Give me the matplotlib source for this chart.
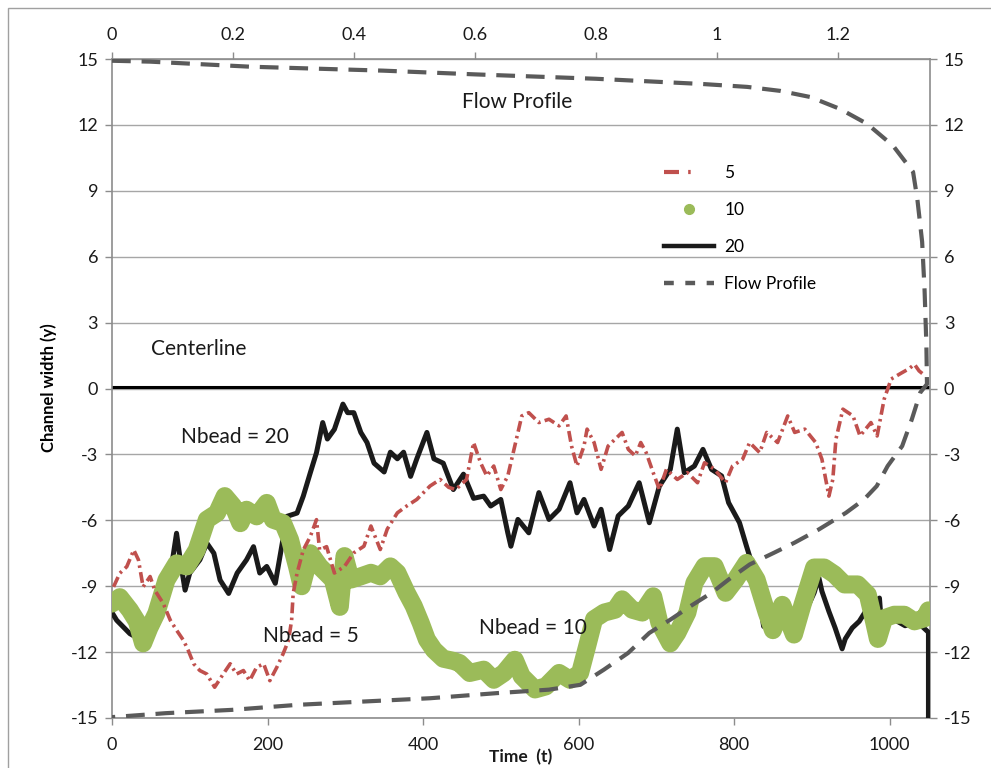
import matplotlib
matplotlib.use("Agg")
import matplotlib.pyplot as plt
from matplotlib.lines import Line2D
from matplotlib.patches import Rectangle

plt.rcParams['font.family'] = ['Lato', 'DejaVu Sans']

# Nbead = 5 trajectory (red, dash-dot)
t5 = [2, 10, 19, 28, 34, 40, 49, 55, 66, 75,
      83, 92, 98, 105, 113, 122, 132, 143, 152, 160,
      169, 177, 186, 195, 203, 212, 220, 227, 231, 233,
      238, 246, 255, 263, 267, 276,
      286, 299, 311, 324, 333, 345, 354, 367, 379, 392,
      409, 422, 433, 442, 456, 465, 474, 482, 491, 500,
      509, 518, 527, 536, 549, 562, 575, 584, 591, 598,
      607, 611, 620, 629, 638, 647, 656, 664, 673, 680,
      687, 696, 704, 713, 727, 740, 753, 762, 775, 789,
      798, 811, 820, 833, 842, 856, 869, 878, 891, 905,
      913, 922, 927, 931, 940, 953, 962, 976, 984, 993,
      1002, 1015, 1025, 1032, 1038, 1045]
y5 = [-9.03, -8.41, -8.11, -7.35, -7.8, -9.03, -8.56, -9.18, -9.79, -10.55,
      -11.0, -11.47, -11.92, -12.53, -12.84, -13.0, -13.6, -13.0, -12.53, -13.0,
      -12.84, -13.3, -12.69, -12.53, -13.3, -12.69, -12.08, -11.47, -10.55, -9.33,
      -8.41, -7.35, -6.74, -5.97, -7.35, -7.2,
      -8.4, -8.1, -7.48, -7.18, -6.26, -7.33, -6.4, -5.66, -5.35, -5.05,
      -4.44, -4.14, -4.5, -4.6, -4.14, -2.46, -3.38, -3.98, -3.53, -4.6,
      -3.98, -2.62, -1.25, -1.1, -1.55, -1.4, -1.7, -1.25, -2.62, -3.53,
      -2.62, -1.85, -2.46, -3.68, -2.62, -2.31, -2.0, -2.77, -3.07, -2.46,
      -2.92, -3.83, -4.6, -3.68, -4.14, -3.83, -4.29, -3.38, -3.68, -4.29,
      -3.53, -3.22, -2.46, -2.92, -2.0, -2.46, -1.25, -2.0, -1.85, -2.46,
      -3.22, -4.9, -4.14, -2.31, -0.94, -1.25, -2.16, -1.55, -2.16, -0.49,
      0.43, 0.7, 0.9, 1.1, 0.8, 0.6]

# Nbead = 10 trajectory (green markers)
t10 = [0, 10, 23, 32, 40, 48, 57, 70, 83, 96,
       109, 122, 135, 145, 156, 165, 173, 186, 199, 207,
       220, 229, 238, 244, 255, 267, 284, 293,
       299, 307, 320, 333, 345, 358, 367, 379, 388, 397,
       405, 414, 426, 439, 447, 460, 478, 491, 504, 518,
       527, 544, 558, 575, 589, 602, 611, 620, 633, 647,
       656, 669, 682, 696, 704, 718, 727, 740, 749, 762,
       775, 789, 802, 816, 829, 842,
       850, 862, 877, 888, 903, 916, 929, 942, 959, 972,
       980, 985, 993, 1006, 1019, 1032, 1045, 1050]
y10 = [-9.79, -9.5, -10.09, -10.6, -11.6, -10.9, -10.24, -8.72, -7.96, -8.1,
       -7.35, -5.97, -5.67, -4.9, -5.36, -6.13, -5.52, -5.82, -5.21, -5.97,
       -6.13, -6.89, -8.11, -9.0, -7.5, -8.1, -8.7, -9.94,
       -7.63, -8.7, -8.55, -8.39, -8.55, -8.1, -8.39, -9.3, -9.9, -10.67,
       -11.43, -11.9, -12.3, -12.4, -12.5, -12.95, -12.8, -13.26, -12.95, -12.35,
       -13.1, -13.7, -13.56, -12.95, -13.26, -12.95, -11.74, -10.5, -10.2, -10.07,
       -9.6, -10.07, -10.2, -9.46, -10.67, -11.6, -11.13, -10.2, -8.85, -8.09,
       -8.09, -9.3, -8.7, -7.94, -8.7, -10.2,
       -11.0, -9.85, -11.2, -9.85, -8.15, -8.15, -8.46, -8.92, -8.92, -9.38,
       -10.6, -11.4, -10.46, -10.3, -10.3, -10.6, -10.46, -10.1]

# Nbead = 20 trajectory (black)
t20 = [0, 6, 23, 45, 57, 70, 83, 89, 94, 100,
       113, 122, 131, 139, 150, 161, 173, 182, 190, 199,
       210, 216, 225, 238, 246, 255, 263,
       271, 277, 286, 297, 303, 311, 320, 328, 337, 350,
       358, 367, 375, 384, 392, 405, 414, 426, 439, 452,
       465, 478, 487, 500, 509, 513, 522, 536, 549, 562,
       575, 589, 598, 607, 620, 629, 640, 651, 664, 678,
       691, 704, 718, 727, 736, 749, 760, 771, 784, 793,
       807, 816, 824, 833, 838, 842, 856, 866, 877, 890,
       903, 909, 913, 922, 930, 939, 943, 952, 961, 969,
       976, 987, 989, 1005, 1020, 1035, 1050, 1050]
y20 = [-10.2, -10.55, -11.16, -11.6, -10.85, -9.63, -6.59, -8.1, -9.18, -8.4,
       -7.8, -7.04, -7.5, -8.72, -9.33, -8.4, -7.8, -7.2, -8.4, -8.1,
       -8.87, -7.65, -5.82, -5.67, -4.9, -3.84, -2.92,
       -1.55, -2.3, -1.86, -0.71, -1.1, -1.1, -2.0, -2.46, -3.4, -3.8,
       -2.9, -3.2, -2.9, -4.0, -3.2, -2.0, -3.2, -3.4, -4.6, -3.9,
       -5.0, -4.9, -5.35, -5.05, -6.57, -7.18, -5.96, -6.57, -4.74, -5.96,
       -5.5, -4.29, -5.66, -5.05, -6.26, -5.5, -7.33, -5.8, -5.35, -4.29,
       -6.11, -4.44, -3.68, -1.85, -3.83, -3.53, -2.77, -3.68, -3.98, -5.2,
       -6.11, -7.18, -8.09, -9.6, -10.83, -10.2, -9.9, -10.9, -10.9, -10.3,
       -9.3, -8.6, -9.23, -10.15, -10.9, -11.85, -11.4, -10.9, -10.6, -10.15,
       -9.85, -9.54, -10.46, -10.5, -10.8, -10.6, -11.1, -15.0]

# centerline
t_center = [0, 1050]
y_center = [0.05, 0.05]

# flow profile (velocity on top axis, position y)
flow_v = [0, 0.063, 0.228, 0.448, 0.6, 0.8, 0.977, 1.05, 1.104, 1.154,
          1.203, 1.248, 1.291, 1.324, 1.331, 1.339, 1.343, 1.346, 1.347,
          1.336, 1.322, 1.306, 1.282, 1.264, 1.243, 1.213, 1.168, 1.128, 1.094,
          1.054, 1.019, 0.991, 0.956, 0.923, 0.888, 0.853, 0.813, 0.774, 0.722,
          0.635, 0.526, 0.416, 0.307, 0.198, 0.089, 0]
flow_y = [14.92, 14.88, 14.65, 14.47, 14.3, 14.1, 13.86, 13.73, 13.55, 13.27,
          12.73, 12.05, 11.05, 9.86, 8.64, 6.68, 4.5, 2.0, 0.2,
          -0.18, -1.4, -2.62, -3.53, -4.44, -5.05, -5.66, -6.42, -7.02, -7.48,
          -8.01, -8.7, -9.3, -9.91, -10.52, -11.13, -12.04, -12.8, -13.49, -13.71,
          -13.87, -14.1, -14.25, -14.4, -14.63, -14.78, -14.96]

y_ticks = [-15, -12, -9, -6, -3, 0, 3, 6, 9, 12, 15]
x_ticks = [0, 200, 400, 600, 800, 1000]
top_ticks = [0, 0.2, 0.4, 0.6, 0.8, 1, 1.2]
top_labels = ['0', '0.2', '0.4', '0.6', '0.8', '1', '1.2']

RED = '#C0504D'
GREEN = '#9BBB59'
GRAY = '#5A5A5A'
AXC = '#8C8C8C'
TXT = '#1a1a1a'

fig = plt.figure(figsize=(9.91, 7.68), dpi=100)
ax = fig.add_axes([112 / 991, 1 - 718 / 768, 818 / 991, 659 / 768])

# gridlines
for yv in y_ticks:
    ax.axhline(yv, color='#A6A6A6', lw=1.0, zorder=0)

ax.plot(t_center, y_center, color='black', lw=2.2, zorder=2)
ax.plot(t20, y20, color=TXT, lw=3.6, zorder=3)
ax.plot(t10, y10, color=GREEN, lw=13, zorder=4,
        solid_joinstyle='round', solid_capstyle='round')
ax.plot(t5, y5, color=RED, lw=2.6, zorder=5,
        linestyle=(0, (3.0, 1.2, 0.7, 1.2)))

ax.set_xlim(0, 1052)
ax.set_ylim(-15, 15)
ax.set_xticks(x_ticks)
ax.set_yticks(y_ticks)
ax.set_yticklabels([str(v) for v in y_ticks])
ax.tick_params(axis='both', labelsize=13, colors=TXT, length=5,
               width=1, color=AXC, direction='out')
ax.tick_params(axis='x', pad=9)
ax.tick_params(axis='y', right=True, labelright=True, pad=5)
for s in ax.spines.values():
    s.set_color(AXC)
    s.set_linewidth(1.2)

fig.text(521 / 991, 1 - 757 / 768, 'Time  (t)', fontsize=12.5,
         fontweight='bold', color=TXT, ha='center', va='center')
fig.text(49 / 991, 1 - 388 / 768, 'Channel width (y)', fontsize=12,
         fontweight='bold', color='black', ha='center', va='center',
         rotation=90)

# secondary x axis for the flow profile
ax2 = ax.twiny()
ax2.plot(flow_v, flow_y, color=GRAY, lw=3.0, linestyle=(0, (4.5, 2.6)),
         zorder=6)
ax2.set_xlim(0, 1.352)
ax2.set_xticks(top_ticks)
ax2.set_xticklabels(top_labels)
ax2.tick_params(axis='x', labelsize=13, colors=TXT, length=5,
                width=1, color=AXC, pad=6.5)
for s in ax2.spines.values():
    s.set_visible(False)

# annotations
txt = dict(fontsize=15, color=TXT, ha='center', va='center', zorder=10)
ax.text(521, 13.06, 'Flow Profile', **txt)
ax.text(111, 1.82, 'Centerline', **txt)
ax.text(158, -2.2, 'Nbead = 20', **txt)
ax.text(256, -11.26, 'Nbead = 5', **txt)
ax.text(541, -10.9, 'Nbead = 10', **txt)

# legend
handles = [
    Line2D([], [], color=RED, lw=3, linestyle=(0, (3.6, 2.2, 0.6, 6))),
    Line2D([], [], color=GREEN, marker='o', markersize=7, linestyle='none'),
    Line2D([], [], color=TXT, lw=3.2),
    Line2D([], [], color=GRAY, lw=3.2, linestyle=(0, (2.2, 2.6))),
]
fig.legend(handles, ['5', '10', '20', 'Flow Profile'], loc='upper left',
           bbox_to_anchor=(648 / 991, 1 - 149 / 768), frameon=False,
           fontsize=12.5, handlelength=2.9, labelspacing=1.22,
           handletextpad=0.6)

# chart-area border
fig.patches.append(Rectangle((8 / 991, -0.2), 1.2, 1.2 - 8 / 768,
                             transform=fig.transFigure, fill=False,
                             edgecolor='#A0A0A0', lw=1.0))

fig.savefig('out.png', dpi=100)
